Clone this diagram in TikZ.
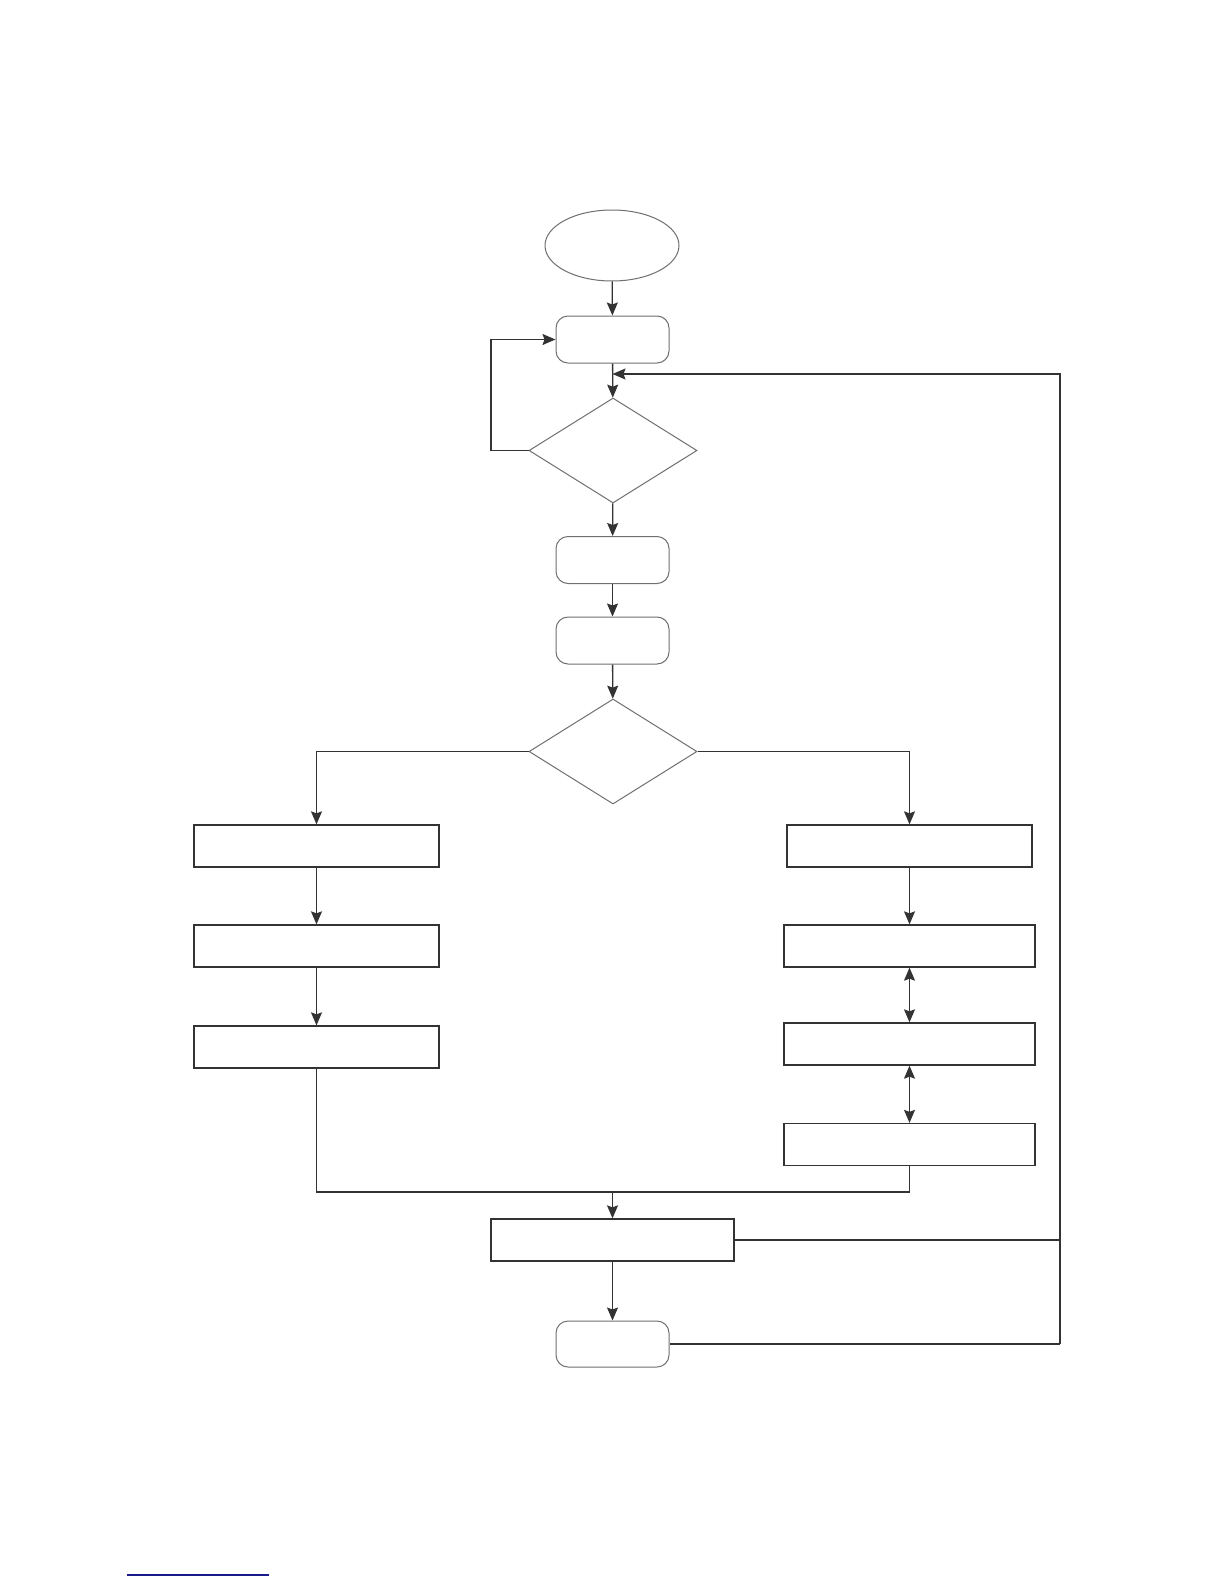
\documentclass[tikz,border=0pt]{standalone}
\usetikzlibrary{shapes.geometric,arrows.meta}
\definecolor{ln}{HTML}{333333}
\definecolor{ol}{HTML}{707070}
\definecolor{lk}{HTML}{1A1A8C}
\begin{document}
\begin{tikzpicture}[x=0.5pt,y=-0.5pt,
  conn/.style={draw=ln,line width=0.65pt},
  arr/.style={conn,-{Stealth[length=6.5pt,width=5.5pt,inset=1pt]}},
  darr/.style={conn,{Stealth[length=6.5pt,width=5.5pt,inset=1pt]}-{Stealth[length=6.5pt,width=5.5pt,inset=1pt]}},
  startnode/.style={ellipse,draw=ol,line width=0.5pt,inner sep=0,minimum width=67pt,minimum height=35.5pt},
  rbox/.style={rectangle,rounded corners=6pt,draw=ol,line width=0.5pt,inner sep=0,minimum width=56.5pt,minimum height=23.5pt},
  dec/.style={diamond,draw=ol,line width=0.5pt,inner sep=0,minimum width=84pt,minimum height=52.5pt},
  pbox/.style={rectangle,draw=ln,line width=0.65pt,inner sep=0,minimum width=122.5pt,minimum height=21pt},
  wbox/.style={pbox,minimum width=125.5pt}]
\useasboundingbox[fill=white] (0,0) rectangle (1224,1584);

\node[startnode] (s) at (612,245.5) {};
\node[rbox] (b1) at (612.5,339.5) {};
\node[dec] (d1) at (613,450.5) {};
\node[rbox] (b2) at (612.5,560) {};
\node[rbox] (b3) at (612.5,640.5) {};
\node[dec] (d2) at (613,751.5) {};

\node[pbox] (l1) at (316.5,846) {};
\node[pbox] (l2) at (316.5,946) {};
\node[pbox] (l3) at (316.5,1047) {};

\node[pbox] (r1) at (909.5,846) {};
\node[wbox] (r2) at (909.5,946) {};
\node[wbox] (r3) at (909.5,1044) {};
\node[wbox] (r4) at (909.5,1144.5) {};

\node[pbox,minimum width=121.5pt] (bt) at (612.5,1240) {};
\node[rbox,minimum height=23pt] (e) at (612.5,1344) {};

\coordinate (lp) at (491,450.5);
\coordinate (m) at (612.5,1192);
\coordinate (rt) at (1060,374);
\coordinate (rb) at (1060,1344);
\coordinate (jn) at (612.5,374);

\draw[arr] (s) -- (b1);
\draw[arr] (b1) -- (d1);
\draw[arr] (rb) -- (rt) -- (jn);
\draw[arr] (d1.west) -- (lp) |- (b1.west);
\draw[arr] (d1) -- (b2);
\draw[arr] (b2) -- (b3);
\draw[arr] (b3) -- (d2);
\draw[arr] (d2.west) -| (l1.north);
\draw[arr] (d2.east) -| (r1.north);
\draw[arr] (l1) -- (l2);
\draw[arr] (l2) -- (l3);
\draw[arr] (r1) -- (r2);
\draw[darr] (r2) -- (r3);
\draw[darr] (r3) -- (r4);
\draw[conn] (l3.south) |- (m) -| (r4.south);
\draw[arr] (m) -- (bt);
\draw[conn] (bt.east) -- (bt.east -| rt);
\draw[arr] (bt) -- (e);
\draw[conn] (e.east) -- (rb);

\draw[lk,line width=0.8pt] (127,1575) -- (269,1575);
\end{tikzpicture}
\end{document}
